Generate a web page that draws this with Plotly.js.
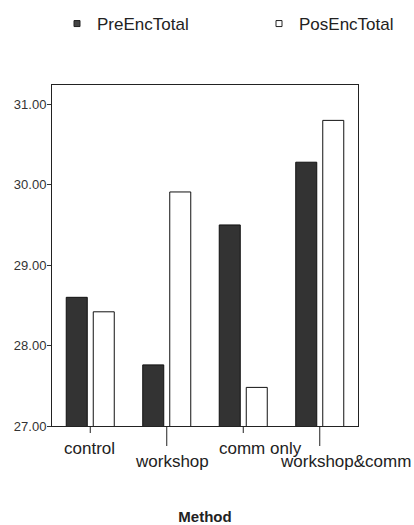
<!DOCTYPE html>
<html>
<head>
<meta charset="utf-8">
<script src="https://cdn.plot.ly/plotly-3.0.1.min.js"></script>
<style>html,body{margin:0;padding:0;background:#fff;}#chart{width:414px;height:525px;}</style>
</head>
<body>
<div id="chart"></div>
<script>
// ---- data ----
const categories = ["control", "workshop", "comm only", "workshop&comm"];
const preEncTotal = [28.60, 27.76, 29.50, 30.28];
const posEncTotal = [28.42, 29.91, 27.48, 30.80];
const yTickValues = [27, 28, 29, 30, 31];
const yTickLabels = ["27.00", "28.00", "29.00", "30.00", "31.00"];
const seriesNames = ["PreEncTotal", "PosEncTotal"];

// ---- layout helpers (positions/styles, not data) ----
const labelShift = [-1, 5, 17, 26];          // px horizontal offset of each category label
const labelRow = [0, 1, 0, 1];               // staggered rows
const plotH = 341;
const font = "Liberation Sans, Arial, sans-serif";

const traces = [
  {type: "bar", x: categories, y: preEncTotal, name: seriesNames[0], showlegend: false,
   marker: {color: "#333333", line: {color: "#111", width: 1}}},
  {type: "bar", x: categories, y: posEncTotal, name: seriesNames[1], showlegend: false,
   marker: {color: "#ffffff", line: {color: "#111", width: 1}}},
  {type: "scatter", mode: "markers", x: [null], y: [null], name: seriesNames[0], legend: "legend",
   marker: {symbol: "square", size: 6, color: "#444", line: {color: "#222", width: 1}}},
  {type: "scatter", mode: "markers", x: [null], y: [null], name: seriesNames[1], legend: "legend2",
   marker: {symbol: "square", size: 6, color: "#fff", line: {color: "#222", width: 1}}}
];

const annotations = categories.map((c, i) => ({
  x: c, xref: "x", yref: "paper",
  y: labelRow[i] ? -(462 - 426) / plotH : -(448 - 426) / plotH,
  yanchor: "middle", xanchor: "center", xshift: labelShift[i],
  text: c, showarrow: false,
  font: {family: font, size: 17, color: "#222"}
}));

const shapes = categories.map((c, i) => ({
  type: "line", xref: "x", yref: "paper", x0: c, x1: c,
  y0: 0, y1: labelRow[i] ? -20 / plotH : -7 / plotH,
  line: {color: "#222", width: 1}
}));

const legendBase = {
  orientation: "h", xref: "container", yref: "container", y: 1 - 24 / 525, yanchor: "middle",
  xanchor: "left", font: {family: font, size: 17, color: "#222"}, bgcolor: "rgba(0,0,0,0)"
};

const layout = {
  width: 414, height: 525,
  margin: {l: 52, r: 56, t: 85, b: 99, autoexpand: false},
  paper_bgcolor: "#fff", plot_bgcolor: "#fff",
  barmode: "group", bargap: 0.294, bargroupgap: 0.222,
  font: {family: font, color: "#222"},
  xaxis: {
    type: "category", range: [-0.5, 3.5], showticklabels: false, ticks: "",
    showline: true, linecolor: "#222", linewidth: 1, mirror: true, showgrid: false, zeroline: false,
    fixedrange: true, automargin: false,
    title: {text: "<b>Method</b>", font: {family: font, size: 15, color: "#222"}, standoff: 85}
  },
  yaxis: {
    range: [27, 31.24], tickvals: yTickValues, ticktext: yTickLabels,
    ticks: "outside", ticklen: 4, tickcolor: "#333", ticklabelstandoff: -2,
    showline: true, linecolor: "#222", linewidth: 1, mirror: true, showgrid: false, zeroline: false,
    tickfont: {family: font, size: 13, color: "#333"}, automargin: false
  },
  showlegend: true,
  legend: Object.assign({}, legendBase, {x: 57 / 414}),
  legend2: Object.assign({}, legendBase, {x: 259 / 414}),
  annotations: annotations,
  shapes: shapes
};

Plotly.newPlot("chart", traces, layout, {staticPlot: true, displayModeBar: false});
</script>
</body>
</html>
